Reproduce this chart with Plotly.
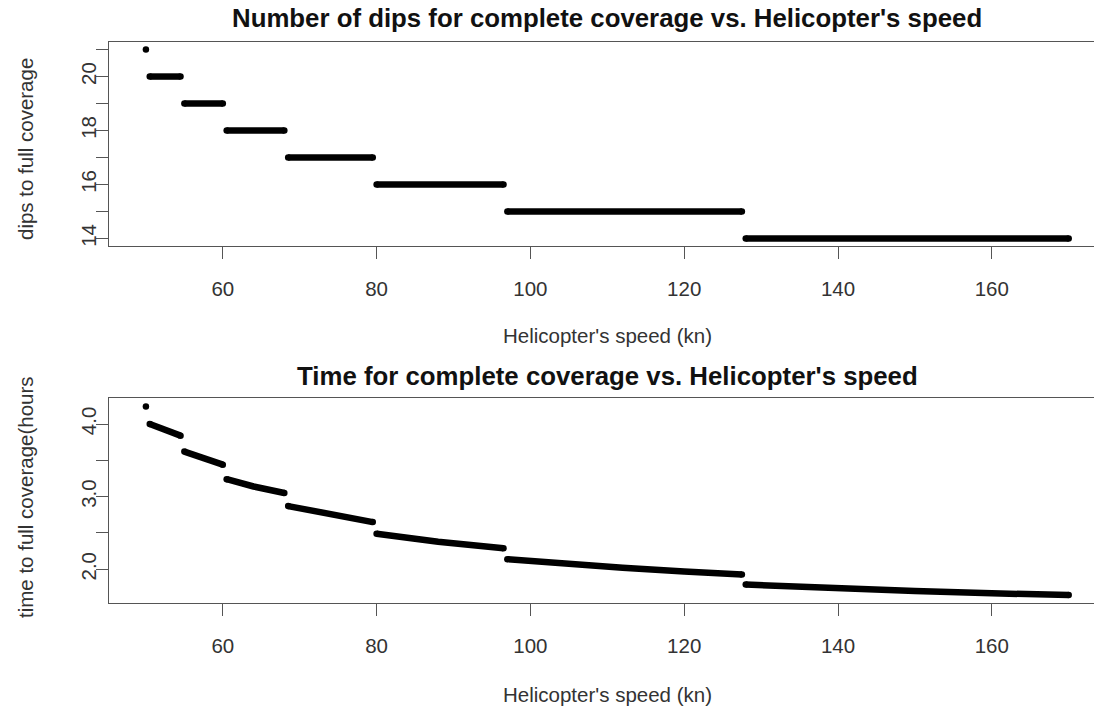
import plotly.graph_objects as go

# Helicopter speed (kn) where each dip count holds, as plateau start/end
seg_start = [50.5, 55.0, 60.5, 68.5, 80.0, 97.0, 128.0]
seg_end = [54.5, 60.0, 68.0, 79.5, 96.5, 127.5, 170.0]
seg_dips = [20, 19, 18, 17, 16, 15, 14]

# Single isolated point at the lowest speed
first_speed = 50.0
first_dips = 21
first_time = 4.24

# Time for full coverage (hours), sampled along each plateau
time_speed = [
    [50.5, 52.5, 54.5],
    [55.0, 57.5, 60.0],
    [60.5, 64.0, 68.0],
    [68.5, 74.0, 79.5],
    [80.0, 88.0, 96.5],
    [97.0, 105.0, 112.0, 120.0, 127.5],
    [128.0, 140.0, 150.0, 160.0, 170.0],
]
time_hours = [
    [4.00, 3.92, 3.84],
    [3.62, 3.52, 3.44],
    [3.24, 3.14, 3.05],
    [2.87, 2.75, 2.65],
    [2.49, 2.38, 2.29],
    [2.14, 2.07, 2.02, 1.97, 1.93],
    [1.79, 1.735, 1.70, 1.67, 1.645],
]

x_ticks = [60, 80, 100, 120, 140, 160]
dips_ticks = [14, 15, 16, 17, 18, 19, 20, 21]
dips_labels = ["14", "", "16", "", "18", "", "20", ""]
time_ticks = [2.0, 2.5, 3.0, 3.5, 4.0]
time_labels = ["2.0", "", "3.0", "", "4.0"]

W, H = 1094, 709
FONT = "Liberation Sans, Arial, sans-serif"
INK = "#000000"
AXIS = "#555555"
LW = 6.5

fig = go.Figure()

# dips panel: plateaus drawn as thick segments with round ends
dx, dy = [], []
for s, e, d in zip(seg_start, seg_end, seg_dips):
    dx += [s, e, None]
    dy += [d, d, None]
fig.add_trace(go.Scatter(
    x=dx, y=dy, mode="lines+markers", xaxis="x", yaxis="y",
    line=dict(color=INK, width=LW),
    marker=dict(color=INK, size=LW), showlegend=False, hoverinfo="skip"))
fig.add_trace(go.Scatter(
    x=[first_speed], y=[first_dips], mode="markers", xaxis="x", yaxis="y",
    marker=dict(color=INK, size=LW), showlegend=False))

# time panel: each plateau's curve, with round dots at its ends
tx, ty, ex, ey = [], [], [], []
for xs, ys in zip(time_speed, time_hours):
    tx += xs + [None]
    ty += ys + [None]
    ex += [xs[0], xs[-1]]
    ey += [ys[0], ys[-1]]
fig.add_trace(go.Scatter(
    x=tx, y=ty, mode="lines", xaxis="x2", yaxis="y2",
    line=dict(color=INK, width=LW), showlegend=False, hoverinfo="skip"))
fig.add_trace(go.Scatter(
    x=ex, y=ey, mode="markers", xaxis="x2", yaxis="y2",
    marker=dict(color=INK, size=LW), showlegend=False, hoverinfo="skip"))
fig.add_trace(go.Scatter(
    x=[first_speed], y=[first_time], mode="markers", xaxis="x2", yaxis="y2",
    marker=dict(color=INK, size=LW), showlegend=False))


def py(v):
    return 1 - v / H


def px(v):
    return v / W


tick_font = dict(family=FONT, size=20.5, color="#333333")
x_common = dict(
    domain=[px(109), 1.0], range=[45.2, 173.29], tickvals=x_ticks,
    ticks="outside", ticklen=12, tickwidth=1.3, tickcolor=AXIS,
    showline=True, linecolor=AXIS, linewidth=1.3, mirror=True,
    showgrid=False, zeroline=False, tickfont=tick_font,
    ticklabelstandoff=12,
)
y_common = dict(
    ticks="outside", ticklen=12, tickwidth=1.3, tickcolor=AXIS,
    showline=True, linecolor=AXIS, linewidth=1.3,
    showgrid=False, zeroline=False, tickfont=tick_font, tickangle=-90,
    ticklabelstandoff=-8,
)

fig.update_layout(
    width=W, height=H,
    margin=dict(l=0, r=0, t=0, b=0),
    paper_bgcolor="white", plot_bgcolor="white",
    xaxis=dict(anchor="y", **x_common),
    yaxis=dict(anchor="x", domain=[py(246), py(42)], range=[13.72, 21.28],
               tickvals=dips_ticks, ticktext=dips_labels, **y_common),
    xaxis2=dict(anchor="y2", **x_common),
    yaxis2=dict(anchor="x2", domain=[py(603.3), py(398.3)], range=[1.532, 4.354],
                tickvals=time_ticks, ticktext=time_labels, **y_common),
)

title_font = dict(family=FONT, size=25.8, color="#111111")
label_font = dict(family=FONT, size=20.5, color="#333333")
notes = [
    ("<b>Number of dips for complete coverage vs. Helicopter's speed</b>", 607, 18, 0, title_font),
    ("Helicopter's speed (kn)", 607, 336, 0, label_font),
    ("<b>Time for complete coverage vs. Helicopter's speed</b>", 607, 376, 0, title_font),
    ("Helicopter's speed (kn)", 607, 694, 0, label_font),
    ("dips to full coverage", 25, 149, -90, label_font),
    ("time to full coverage(hours", 25, 497, -90, label_font),
]
for text, x, y, ang, f in notes:
    fig.add_annotation(
        text=text, x=px(x), y=py(y), xref="paper", yref="paper",
        xanchor="center", yanchor="middle", showarrow=False,
        textangle=ang, font=f)

fig.write_html("out.html")
